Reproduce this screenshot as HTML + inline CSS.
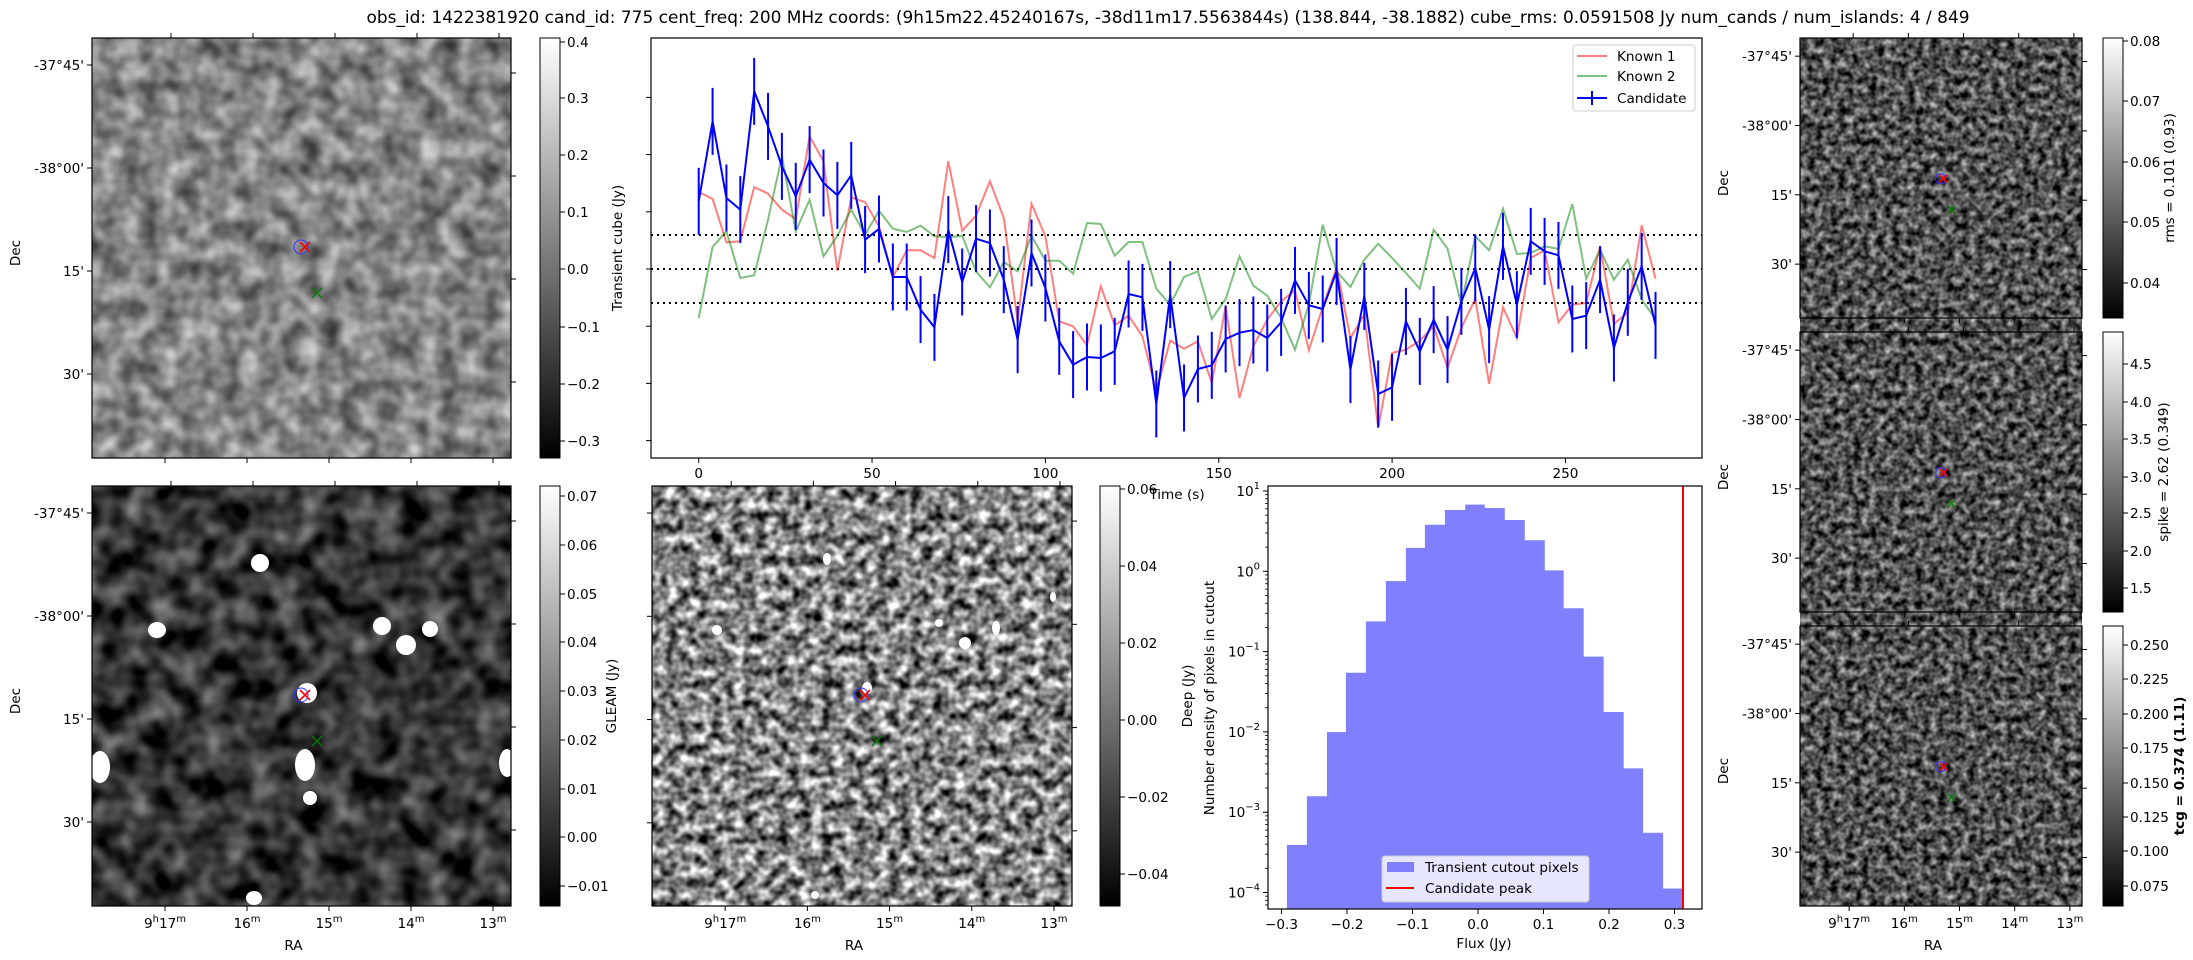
<!DOCTYPE html>
<html><head><meta charset="utf-8">
<style>
html,body{margin:0;padding:0;background:#fff;}
svg{display:block;font-family:"DejaVu Sans","Liberation Sans",sans-serif;}
filter{color-interpolation-filters:sRGB;}
</style></head><body>
<svg id="s" width="2193" height="960" viewBox="0 0 2193 960" xmlns="http://www.w3.org/2000/svg">
<defs>
<linearGradient id="cb" x1="0" y1="1" x2="0" y2="0"><stop offset="0" stop-color="#000"/><stop offset="1" stop-color="#fff"/></linearGradient>
<filter id="f1" color-interpolation-filters="sRGB" filterUnits="userSpaceOnUse" x="92" y="38" width="419" height="420">
<feTurbulence type="fractalNoise" baseFrequency="0.05" numOctaves="2" seed="3"/>
<feColorMatrix type="matrix" values="0.8 0 0 0 0.12 0.8 0 0 0 0.12 0.8 0 0 0 0.12 0 0 0 0 1"/></filter>
<filter id="f2" color-interpolation-filters="sRGB" filterUnits="userSpaceOnUse" x="92" y="486" width="419" height="420">
<feTurbulence type="fractalNoise" baseFrequency="0.04" numOctaves="2" seed="7"/>
<feColorMatrix type="matrix" values="0.9 0 0 0 -0.24 0.9 0 0 0 -0.24 0.9 0 0 0 -0.24 0 0 0 0 1"/></filter>
<filter id="f3" color-interpolation-filters="sRGB" filterUnits="userSpaceOnUse" x="652" y="486" width="420" height="420">
<feTurbulence type="fractalNoise" baseFrequency="0.09" numOctaves="2" seed="11"/>
<feColorMatrix type="matrix" values="1.7 0 0 0 -0.33 1.7 0 0 0 -0.33 1.7 0 0 0 -0.33 0 0 0 0 1"/></filter>
<filter id="f4" color-interpolation-filters="sRGB" filterUnits="userSpaceOnUse" x="1800" y="38" width="282" height="868">
<feTurbulence type="fractalNoise" baseFrequency="0.13" numOctaves="2" seed="5"/>
<feColorMatrix type="matrix" values="1.2 0 0 0 -0.28 1.2 0 0 0 -0.28 1.2 0 0 0 -0.28 0 0 0 0 1"/></filter>
</defs>
<g id="g"></g>
</svg>
<script>
var g=document.getElementById('g'),h='';
function T(x,y,t,a,ex){h+='<text x="'+x+'" y="'+y+'" font-size="13.6" text-anchor="'+(a||'middle')+'" '+(ex||'')+'>'+t+'</text>';}
function L(x1,y1,x2,y2,st){h+='<line x1="'+x1+'" y1="'+y1+'" x2="'+x2+'" y2="'+y2+'" '+(st||'stroke="#000" stroke-width="1"')+'/>';}
h+='<text x="1168" y="23" font-size="16.7" text-anchor="middle" textLength="1603" lengthAdjust="spacingAndGlyphs">obs_id: 1422381920 cand_id: 775 cent_freq: 200 MHz coords: (9h15m22.45240167s, -38d11m17.5563844s) (138.844, -38.1882) cube_rms: 0.0591508 Jy num_cands / num_islands: 4 / 849</text>';
function markers(x0,y0,s){
  var cx=x0+212*s,cy=y0+209*s,gx=x0+225*s,gy=y0+255*s,r=6*s+1,m=4*s+1;
  h+='<circle cx="'+(cx-3*s)+'" cy="'+cy+'" r="'+r+'" fill="none" stroke="#33f" stroke-width="1"/>';
  L(cx-m+1,cy-m,cx+m+1,cy+m,'stroke="red" stroke-width="1.6"');L(cx-m+1,cy+m,cx+m+1,cy-m,'stroke="red" stroke-width="1.6"');
  L(gx-m,gy-m,gx+m,gy+m,'stroke="green" stroke-width="1.3"');L(gx-m,gy+m,gx+m,gy-m,'stroke="green" stroke-width="1.3"');
}
function skyAxes(x0,y0,w,hh,dec,ra){
  h+='<rect x="'+x0+'" y="'+y0+'" width="'+w+'" height="'+hh+'" fill="none" stroke="#000" stroke-width="1.2"/>';
  var s=w/419;
  for(var k=0;k<4;k++){var y=y0+27*s+k*103*s;L(x0-5,y,x0,y);
    if(dec){T(x0-8,y+5,["-37°45'","-38°00'","15'","30'"][k],'end');}
    var yr=y0+35*s+k*103*s;L(x0+w,yr,x0+w+5,yr);}
  for(var k=0;k<5;k++){var x=x0+73*s+k*82*s;L(x,y0+hh,x,y0+hh+5);
    if(ra){var lab=k==0?'9<tspan font-size="10" dy="-6">h</tspan><tspan dy="6">17</tspan><tspan font-size="10" dy="-6">m</tspan>':(17-k)+'<tspan font-size="10" dy="-6">m</tspan>';T(x,y0+hh+22,lab);}
    var xt=x0+79*s+k*82*s;if(xt<x0+w)L(xt,y0,xt,y0-5);}
  if(ra)T(x0+w/2-8,y0+hh+44,'RA');
  if(dec)h+='<text x="0" y="0" font-size="13.6" text-anchor="middle" transform="translate('+(x0-72)+','+(y0+hh/2+5)+') rotate(-90)">Dec</text>';
}
function cbar(x0,y0,hh,ticks,label,lx,bold){
  h+='<rect x="'+x0+'" y="'+y0+'" width="20" height="'+hh+'" fill="url(#cb)" stroke="#000" stroke-width="1"/>';
  ticks.forEach(function(t){L(x0+20,t[1],x0+25,t[1]);T(x0+27,t[1]+5,t[0],'start');});
  h+='<text x="0" y="0" font-size="13.6" text-anchor="middle" '+(bold?'font-weight="bold"':'')+' transform="translate('+lx+','+(y0+hh/2)+') rotate(-90)">'+label+'</text>';
}
h+='<rect x="92" y="38" width="419" height="420" filter="url(#f1)"/>';
h+='<rect x="92" y="486" width="419" height="420" filter="url(#f2)"/>';
[[260,563,9,9],[157,630,9,8],[382,626,9,9],[406,645,10,10],[430,629,8,8],[307,693,10,10],[100,767,10,16],[305,765,10,16],[310,798,7,7],[507,763,8,14],[254,898,8,7]].forEach(function(b){h+='<ellipse cx="'+b[0]+'" cy="'+b[1]+'" rx="'+b[2]+'" ry="'+b[3]+'" fill="#fff"/>';});
h+='<rect x="652" y="486" width="420" height="420" filter="url(#f3)"/>';
[[827,559,4,6],[717,630,5,5],[939,623,4,4],[965,643,6,6],[996,628,4,7],[1053,597,3,5],[815,895,4,4],[867,688,5,6]].forEach(function(b){h+='<ellipse cx="'+b[0]+'" cy="'+b[1]+'" rx="'+b[2]+'" ry="'+b[3]+'" fill="#fff"/>';});
h+='<rect x="1800" y="38" width="282" height="280" filter="url(#f4)"/>';
h+='<rect x="1800" y="332" width="282" height="280" filter="url(#f4)"/>';
h+='<rect x="1800" y="626" width="282" height="280" filter="url(#f4)"/>';
markers(92,38,1);markers(92,486,1);markers(652,486,1);
var rs=282/419;markers(1800,38,rs);markers(1800,332,rs);markers(1800,626,rs);
skyAxes(92,38,419,420,true,false);skyAxes(92,486,419,420,true,true);skyAxes(652,486,420,420,false,true);
skyAxes(1800,38,282,280,true,false);skyAxes(1800,332,282,280,true,false);skyAxes(1800,626,282,280,true,true);
cbar(540,38,420,[['0.4',42],['0.3',98],['0.2',155],['0.1',212],['0.0',269],['−0.1',327],['−0.2',384],['−0.3',441]],'Transient cube (Jy)',622);
cbar(540,486,420,[['0.07',496],['0.06',545],['0.05',594],['0.04',642],['0.03',691],['0.02',740],['0.01',789],['0.00',837],['−0.01',886]],'GLEAM (Jy)',616);
cbar(1100,486,420,[['0.06',489],['0.04',566],['0.02',643],['0.00',720],['−0.02',797],['−0.04',874]],'Deep (Jy)',1192);
cbar(2103,38,280,[['0.08',41],['0.07',101],['0.06',162],['0.05',222],['0.04',283]],'rms = 0.101 (0.93)',2174);
cbar(2103,332,280,[['4.5',364],['4.0',402],['3.5',439],['3.0',477],['2.5',513],['2.0',551],['1.5',588]],'spike = 2.62 (0.349)',2168);
cbar(2103,626,280,[['0.250',645],['0.225',679],['0.200',714],['0.175',748],['0.150',783],['0.125',817],['0.100',851],['0.075',886]],'tcg = 0.374 (1.11)',2184,true);
var X0=651,X1=1702,Y0=38,Y1=458;
h+='<rect x="'+X0+'" y="'+Y0+'" width="'+(X1-X0)+'" height="'+(Y1-Y0)+'" fill="#fff" stroke="#000" stroke-width="1.2"/>';
[-0.3,-0.2,-0.1,0,0.1,0.2,0.3].forEach(function(v){var y=269-v*572;L(X0-5,y,X0,y);});
[0,50,100,150,200,250].forEach(function(t){var x=698.7+3.467*t;L(x,Y1,x,Y1+5);T(x,Y1+20,t);});
T(1177,499,'Time (s)');
[235,269,303].forEach(function(y){L(X0,y,X1,y,'stroke="#000" stroke-width="2" stroke-dasharray="2,4"');});
var B=[490,250,480,515,160,265,385,475,365,435,472,412,605,573,717,717,815,868,575,732,602,615,725,905,645,750,910,980,957,960,940,768,778,1098,770,1080,993,982,903,884,876,900,853,727,802,813,700,995,775,1068,1048,850,940,845,935,790,690,875,625,800,610,640,652,843,833,725,930,793,685,862];
var R=[462,483,613,610,447,467,515,543,295,370,698,478,493,565,718,637,637,660,370,578,533,430,540,850,497,595,850,865,922,745,862,833,895,1060,908,932,910,1035,805,1080,925,845,790,757,937,808,688,900,830,1170,945,935,908,865,990,870,782,1038,808,900,660,637,853,800,795,625,858,823,562,722];
var G=[840,627,580,720,712,545,355,580,485,655,593,515,590,518,572,582,563,595,598,593,700,748,672,700,593,668,668,707,555,558,653,612,612,752,800,717,700,843,783,655,743,773,840,935,800,560,700,747,665,617,660,705,752,575,632,800,595,637,512,648,645,625,633,498,722,635,725,665,785,843];
function px(i){return 698.7+13.867*i;}function py(z){return 38+z/3;}
function poly(a,st){var p=a.map(function(z,i){return px(i).toFixed(1)+','+py(z).toFixed(1);}).join(' ');h+='<polyline points="'+p+'" fill="none" '+st+'/>';}
poly(R,'stroke="#ff0000" stroke-opacity="0.5" stroke-width="2"');
poly(G,'stroke="#008000" stroke-opacity="0.5" stroke-width="2"');
B.forEach(function(z,i){var y=py(z);L(px(i),y-33.5,px(i),y+33.5,'stroke="#0000ff" stroke-width="2"');});
poly(B,'stroke="#0000ff" stroke-width="2"');
h+='<rect x="1573" y="45" width="122" height="66" rx="3" fill="#fff" fill-opacity="0.8" stroke="#ccc"/>';
L(1577,56,1607,56,'stroke="#ff0000" stroke-opacity="0.5" stroke-width="2"');T(1617,61,'Known 1','start');
L(1577,76,1607,76,'stroke="#008000" stroke-opacity="0.5" stroke-width="2"');T(1617,81,'Known 2','start');
L(1577,98,1607,98,'stroke="#0000ff" stroke-width="2"');L(1592,91,1592,105,'stroke="#0000ff" stroke-width="2"');T(1617,103,'Candidate','start');
var HX0=1268,HX1=1702,HY0=486,HY1=909;
var E=[311,369,427,482,540,598,656,711,769,828,883,941,999,1057,1112,1170,1228,1286,1342,1400,1455];
var Hh=[1118,973,782,605,452,332,233,164,120,104,114,150,210,300,413,557,722,890,1082,1248];
var d='';for(var i=0;i<20;i++){var xa=1180+E[i]/2.9,xb=1180+E[i+1]/2.9,y=470+Hh[i]/2.98;d+='M'+xa.toFixed(1)+','+HY1+'V'+y.toFixed(1)+'H'+xb.toFixed(1)+'V'+HY1+'Z';}
h+='<path d="'+d+'" fill="#8080ff" stroke="#8080ff" stroke-width="0.6"/>';
L(1683,HY0,1683,HY1,'stroke="red" stroke-width="2"');
h+='<rect x="'+HX0+'" y="'+HY0+'" width="'+(HX1-HX0)+'" height="'+(HY1-HY0)+'" fill="none" stroke="#000" stroke-width="1.2"/>';
[-0.3,-0.2,-0.1,0,0.1,0.2,0.3].forEach(function(v){var x=1478+v*655;L(x,HY1,x,HY1+5);T(x,HY1+20,(v<0?'−':'')+Math.abs(v).toFixed(1));});
for(var k=1;k>=-4;k--){var y=491+(1-k)*80.3;L(HX0-5,y,HX0,y);
  h+='<text x="'+(HX0-8)+'" y="'+(y+5)+'" font-size="13.6" text-anchor="end">10<tspan font-size="10" dy="-7">'+(k<0?'−'+(-k):k)+'</tspan></text>';
  for(var m=2;m<10;m++){var ym=y-Math.log10(m)*80.3;if(ym>HY0&&ym<HY1)L(HX0-3,ym,HX0,ym,'stroke="#000" stroke-width="0.8"');}
  if(k==-4)for(var m=2;m<10;m++){var ym=y+80.3-Math.log10(m)*80.3;if(ym<HY1)L(HX0-3,ym,HX0,ym,'stroke="#000" stroke-width="0.8"');}
}
T(1484,948,'Flux (Jy)');
h+='<text x="0" y="0" font-size="13.6" text-anchor="middle" transform="translate(1214,698) rotate(-90)">Number density of pixels in cutout</text>';
h+='<rect x="1382" y="856" width="207" height="46" rx="3" fill="#fff" fill-opacity="0.8" stroke="#ccc"/>';
h+='<rect x="1387" y="862" width="27" height="10" fill="#8080ff"/>';T(1425,872,'Transient cutout pixels','start');
L(1386,888,1414,888,'stroke="red" stroke-width="2"');T(1425,893,'Candidate peak','start');
g.innerHTML=h;
</script>
</body></html>
